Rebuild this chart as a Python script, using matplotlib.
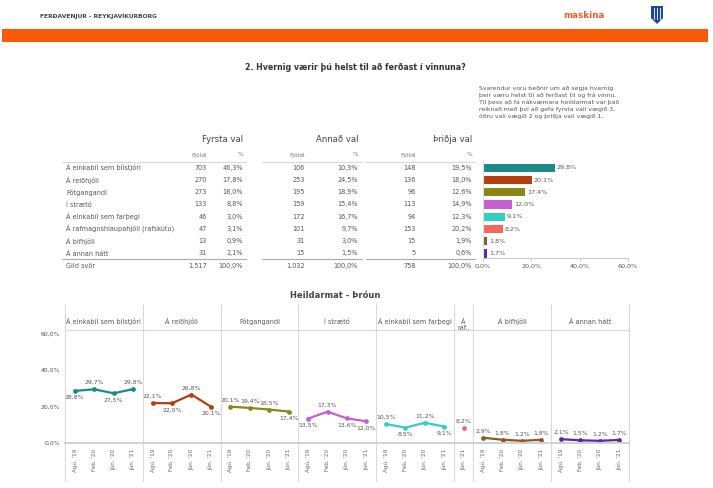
import numpy as np
import matplotlib.pyplot as plt
from matplotlib.lines import Line2D
from matplotlib.patches import Rectangle, Polygon

plt.rcParams['font.family'] = ['DejaVu Sans']

# ---- data ----
modes = ["Á einkabíl sem bílstjóri", "Á reiðhjóli", "Fótgangandi", "Í strætó",
         "Á einkabíl sem farþegi", "Á rafmagnshlaupahjóli (rafskútu)", "Á bifhjóli", "Á annan hátt"]
panel_titles = ["Á einkabíl sem bílstjóri", "Á reiðhjóli", "Fótgangandi", "Í strætó",
                "Á einkabíl sem farþegi", "Á\nraf..", "Á bifhjóli", "Á annan hátt"]

first_n = [703, 270, 273, 133, 46, 47, 13, 31]
first_pct = [46.3, 17.8, 18.0, 8.8, 3.0, 3.1, 0.9, 2.1]
second_n = [106, 253, 195, 159, 172, 101, 31, 15]
second_pct = [10.3, 24.5, 18.9, 15.4, 16.7, 9.7, 3.0, 1.5]
third_n = [148, 136, 96, 113, 94, 153, 15, 5]
third_pct = [19.5, 18.0, 12.6, 14.9, 12.3, 20.2, 1.9, 0.6]
totals_n = [1517, 1032, 758]

overall = [29.8, 20.1, 17.4, 12.0, 9.1, 8.2, 1.8, 1.7]

periods = ["Ágú. '19", "Feb. '20", "Jún. '20", "Jún. '21"]
trend = [
    [28.8, 29.7, 27.5, 29.8],
    [22.1, 22.0, 26.8, 20.1],
    [20.1, 19.4, 18.5, 17.4],
    [13.5, 17.3, 13.6, 12.0],
    [10.5, 8.5, 11.2, 9.1],
    [np.nan, np.nan, np.nan, 8.2],
    [2.9, 1.8, 1.2, 1.8],
    [2.1, 1.5, 1.2, 1.7],
]

# ---- style ----
colors = ["#1b8a85", "#b53f0c", "#8b8716", "#c561cf", "#31d0c6", "#f2685b", "#8a5a2c", "#5a2aa2"]
label_pos = [
    ["b", "a", "b", "a"],
    ["a", "b", "a", "b"],
    ["a", "a", "a", "b"],
    ["b", "a", "b", "b"],
    ["a", "b", "a", "b"],
    ["a", "a", "a", "a"],
    ["a", "a", "a", "a"],
    ["a", "a", "a", "a"],
]
W, H = 713, 488
txt = "#555555"


def fx(x):
    return x / W


def fy(y):
    return 1 - y / H


def pct(v):
    return f"{v:.1f}".replace(".", ",") + "%"


def num(v):
    return f"{v:,}".replace(",", ".")


fig = plt.figure(figsize=(W / 100, H / 100), dpi=100)

# header
fig.text(fx(40), fy(16), "FERÐAVENJUR - REYKJAVÍKURBORG", fontsize=4.3, fontweight="bold",
         color="#444444", va="center")
fig.text(fx(563), fy(16), "maskina", fontsize=6.3, fontweight="bold", color="#ee5a24", va="center")
fig.add_artist(Polygon([[fx(651), fy(6)], [fx(663), fy(6)], [fx(663), fy(18)], [fx(657), fy(24)],
                        [fx(651), fy(18)]], closed=True, facecolor="#1d4a9c", edgecolor="none"))
for sx in [654, 657, 660]:
    fig.add_artist(Line2D([fx(sx)] * 2, [fy(8), fy(19)], color="white", lw=0.6))
fig.add_artist(Rectangle((fx(2), fy(42)), fx(706), 13 / H, facecolor="#fa5a05", edgecolor="none"))

fig.text(fx(355), fy(68), "2. Hvernig værir þú helst til að ferðast í vinnuna?", fontsize=5.7,
         fontweight="bold", color="#333333", ha="center", va="center")

note = ("Svarendur voru beðnir um að segja hvernig\n"
        "þeir væru helst til að ferðast til og frá vinnu.\n"
        "Til þess að fá nákvæmara heildarmat var það\n"
        "reiknað með því að gefa fyrsta vali vægið 3,\n"
        "öðru vali vægið 2 og þriðja vali vægið 1.")
fig.text(fx(479), fy(86), note, fontsize=4.4, color=txt, va="top", linespacing=1.35)

# ---- table ----
row_y = [167.7 + i * 12.25 for i in range(len(modes))]
tot_y = row_y[-1] + 12.25
groups = [("Fyrsta val", first_n, first_pct, 207, 243, 62, 246),
          ("Annað val", second_n, second_pct, 305, 358, 262, 362),
          ("Þriðja val", third_n, third_pct, 416, 472, 366, 475)]
for g, (title, ns, ps, xn, xp, l0, l1) in enumerate(groups):
    fig.text(fx(xp), fy(140), title, fontsize=6.1, color="#444444", ha="right", va="center")
    fig.text(fx(xn), fy(155), "Fjöldi", fontsize=4.2, color="#777777", ha="right", va="center")
    fig.text(fx(xp), fy(155), "%", fontsize=4.2, color="#777777", ha="right", va="center")
    fig.add_artist(Line2D([fx(l0), fx(l1)], [fy(161.5)] * 2, color="#d8d8d8", lw=0.8))
    fig.add_artist(Line2D([fx(l0), fx(l1)], [fy(259)] * 2, color="#aaaaaa", lw=0.8))
    for y, n, p in zip(row_y, ns, ps):
        fig.text(fx(xn), fy(y), num(n), fontsize=4.7, color=txt, ha="right", va="center")
        fig.text(fx(xp), fy(y), pct(p), fontsize=4.7, color=txt, ha="right", va="center")
    fig.text(fx(xn), fy(tot_y), num(totals_n[g]), fontsize=4.7, color=txt, ha="right", va="center")
    fig.text(fx(xp), fy(tot_y), "100,0%", fontsize=4.7, color=txt, ha="right", va="center")
for y, m in zip(row_y, modes):
    fig.text(fx(66), fy(y), m, fontsize=4.7, color=txt, va="center")
fig.text(fx(66), fy(tot_y), "Gild svör", fontsize=4.7, color=txt, va="center")

# ---- overall bars ----
top, bot = row_y[0] - 0.6 * 12.25, row_y[-1] + 0.4 * 12.25
axb = fig.add_axes([fx(483), fy(bot), (628 - 483) / W, (bot - top) / H])
ypos = np.arange(len(modes))
axb.barh(ypos, overall, height=0.68, color=colors)
for yy, v in zip(ypos, overall):
    axb.text(v + 0.8, yy, pct(v), fontsize=4.6, color=txt, va="center")
axb.set_xlim(0, 60)
axb.set_ylim(len(modes) - 0.6, -0.6)
axb.set_xticks([0, 20, 40, 60])
axb.set_xticklabels([pct(v) for v in [0, 20, 40, 60]], fontsize=4.6, color=txt)
axb.set_yticks([])
axb.tick_params(axis="x", length=2, color="#cccccc", pad=2)
for s in ["top", "right"]:
    axb.spines[s].set_visible(False)
axb.spines["bottom"].set_color("#cccccc")
axb.spines["left"].set_color("#e2e2e2")
axb.patch.set_alpha(0)

# ---- trend panels ----
fig.text(fx(335), fy(295), "Heildarmat - Þróun", fontsize=6.0, fontweight="bold",
         color="#444444", ha="center", va="center")
x0, x1 = 65, 629
y_top, y_base = 330, 443
counts = [int(np.sum(~np.isnan(t))) for t in trend]
unit = (x1 - x0) / sum(counts)
edges = [x0 + unit * c for c in np.cumsum([0] + counts)]

for e in edges:
    fig.add_artist(Line2D([fx(e)] * 2, [fy(305), fy(481)], color="#d9d9d9", lw=0.8))
fig.add_artist(Line2D([fx(x0), fx(x1)], [fy(y_top)] * 2, color="#d9d9d9", lw=0.8))
fig.add_artist(Line2D([fx(x0), fx(x1)], [fy(y_base)] * 2, color="#d0d0d0", lw=1.4))

for i, vals in enumerate(trend):
    vals = np.array(vals)
    keep = ~np.isnan(vals)
    v = vals[keep]
    labs = [p for p, k in zip(periods, keep) if k]
    pos = [lp for lp, k in zip(label_pos[i], keep) if k]
    ax = fig.add_axes([fx(edges[i]), fy(y_base), (edges[i + 1] - edges[i]) / W, (y_base - y_top) / H])
    xs = np.arange(len(v))
    if len(v) > 1:
        ax.plot(xs, v, color=colors[i], lw=1.6, marker="o", ms=2.4, zorder=3)
    else:
        ax.plot(xs, v, color=colors[i], ls="none", marker="o", ms=2.4, zorder=3)
    for xx, yy, p in zip(xs, v, pos):
        off = 3 if p == "a" else -3
        ax.annotate(pct(yy), (xx, yy), xytext=(0, off), textcoords="offset points",
                    ha="center", va="bottom" if p == "a" else "top", fontsize=4.4, color=txt,
                    annotation_clip=False)
    ax.set_xlim(-0.5, len(v) - 0.5)
    ax.set_ylim(0, 62.5)
    ax.set_xticks(xs)
    ax.set_xticklabels(labs, rotation=90, fontsize=4.1, color="#666666")
    ax.tick_params(axis="x", length=0, pad=4)
    ax.set_yticks([])
    for s in ax.spines.values():
        s.set_visible(False)
    ax.patch.set_alpha(0)
    fig.text(fx((edges[i] + edges[i + 1]) / 2), fy(325), panel_titles[i], fontsize=4.7,
             color=txt, ha="center", va="bottom" if "\n" not in panel_titles[i] else "center",
             linespacing=1.1)

for v in [0, 20, 40, 60]:
    fig.text(fx(60), fy(y_base - v * (y_base - y_top) / 62.5), pct(v), fontsize=4.4,
             color=txt, ha="right", va="center")

fig.savefig("out.png", dpi=100)
